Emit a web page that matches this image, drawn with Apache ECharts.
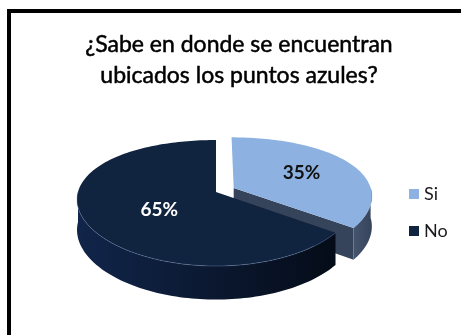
<!DOCTYPE html>
<html><head><meta charset="utf-8">
<script src="https://cdn.jsdelivr.net/npm/echarts@6/dist/echarts.min.js"></script>
<style>html,body{margin:0;padding:0;background:#fff;overflow:hidden}#c{width:461px;height:335px}</style>
</head><body><div id="c"></div>
<script>
// ---- data ----
const categories = ['Si', 'No'];
const values = [35, 65];
const titleLines = ['¿Sabe en donde se encuentran', 'ubicados los puntos azules?'];

// ---- style ----
const topColors = ['#8db2e1', '#10233f'];
const sideColors = [
  ['#45556e', '#36445b'],
  ['#11254a', '#050c18']
];
const labelColors = ['#111', '#fff'];
const labelFrac = [0.58, 0.45];
const labelDrop = [0, 5];
const explode = [0.145, 0];
// projection of the tilted disc (u: across, v: depth, h: height)
const CX = 216, CY = 192, RX = 138, A = 63, B = 11, D0 = 30, K = 0.12;

const total = values.reduce((a, b) => a + b, 0);

function proj(u, v, h) {
  const k = 1 - K * v;
  return [CX + RX * u * k, CY - A * v + B * v * v + h * D0 * k];
}
function ring(u0, v0, t, f, h) {
  const r = t * Math.PI / 180;
  return proj(u0 + f * Math.sin(r), v0 + f * Math.cos(r), h);
}
function arc(u0, v0, s, e, h) {
  const n = Math.max(2, Math.ceil((e - s) / 1.5));
  const out = [];
  for (let k = 0; k <= n; k++) out.push(ring(u0, v0, s + (e - s) * k / n, 1, h));
  return out;
}
function renderSlice(i) {
  let a0 = 0;
  for (let k = 0; k < i; k++) a0 += values[k] / total * 360;
  const a1 = a0 + values[i] / total * 360;
  const mid = (a0 + a1) / 2, mr = mid * Math.PI / 180;
  const u0 = explode[i] * Math.sin(mr), v0 = explode[i] * Math.cos(mr);
  const sideFill = {
    type: 'linear', x: 0, y: 0, x2: 1, y2: 0, global: false,
    colorStops: [{ offset: 0, color: sideColors[i][0] }, { offset: 1, color: sideColors[i][1] }]
  };
  const children = [];
  const c0 = proj(u0, v0, 0), c1 = proj(u0, v0, 1);
  // cut faces
  [[a0, a0 - 90], [a1, a1 + 90]].forEach(([a, nrm]) => {
    if (-Math.cos(nrm * Math.PI / 180) > 0.02) {
      children.push({
        type: 'polygon',
        shape: { points: [c0, ring(u0, v0, a, 1, 0), ring(u0, v0, a, 1, 1), c1] },
        style: { fill: sideColors[i][1] }
      });
    }
  });
  // outer rim (front half only)
  const s = Math.max(a0, 90), e = Math.min(a1, 270);
  if (e > s) {
    children.push({
      type: 'polygon',
      shape: { points: arc(u0, v0, s, e, 0).concat(arc(u0, v0, s, e, 1).reverse()) },
      style: { fill: sideFill }
    });
  }
  // top face
  children.push({
    type: 'polygon',
    shape: { points: [c0].concat(arc(u0, v0, a0, a1, 0)) },
    style: { fill: topColors[i] }
  });
  // soft bevel highlight along the front edge of the top face
  if (e > s) {
    children.push({
      type: 'polyline',
      shape: { points: arc(u0, v0, s, e, 0) },
      style: { stroke: 'rgba(120,150,200,0.35)', lineWidth: 1, fill: null }
    });
  }
  // label
  const lp = ring(u0, v0, mid, labelFrac[i], 0);
  children.push({
    type: 'text', x: lp[0], y: lp[1] + labelDrop[i],
    style: {
      text: Math.round(values[i] / total * 100) + '%',
      fill: labelColors[i], font: 'bold 19px Lato',
      align: 'center', verticalAlign: 'middle'
    }
  });
  return { type: 'group', children };
}

const chart = echarts.init(document.getElementById('c'), null, { renderer: 'canvas' });
chart.setOption({
  animation: false,
  backgroundColor: '#fff',
  title: {
    text: titleLines.join('\n'),
    left: 234, top: 24, textAlign: 'center',
    textStyle: {
      fontFamily: 'Lato', fontSize: 23, fontWeight: 'normal', color: '#000', lineHeight: 31,
      textBorderColor: '#000', textBorderWidth: 0.5
    }
  },
  legend: {
    data: categories, orient: 'vertical', left: 404, top: 180,
    icon: 'rect', itemWidth: 10, itemHeight: 10, itemGap: 19,
    selectedMode: false,
    textStyle: { fontFamily: 'Lato', fontSize: 18, color: '#1a1a1a' }
  },
  graphic: [{
    type: 'rect', silent: true,
    shape: { x: 9, y: 11, width: 480, height: 360 },
    style: { fill: 'none', stroke: '#000', lineWidth: 4 }
  }],
  series: categories.map((name, i) => ({
    type: 'custom', name, coordinateSystem: 'none',
    itemStyle: { color: topColors[i] },
    data: [[values[i]]],
    renderItem: () => renderSlice(i)
  }))
});
</script></body></html>
